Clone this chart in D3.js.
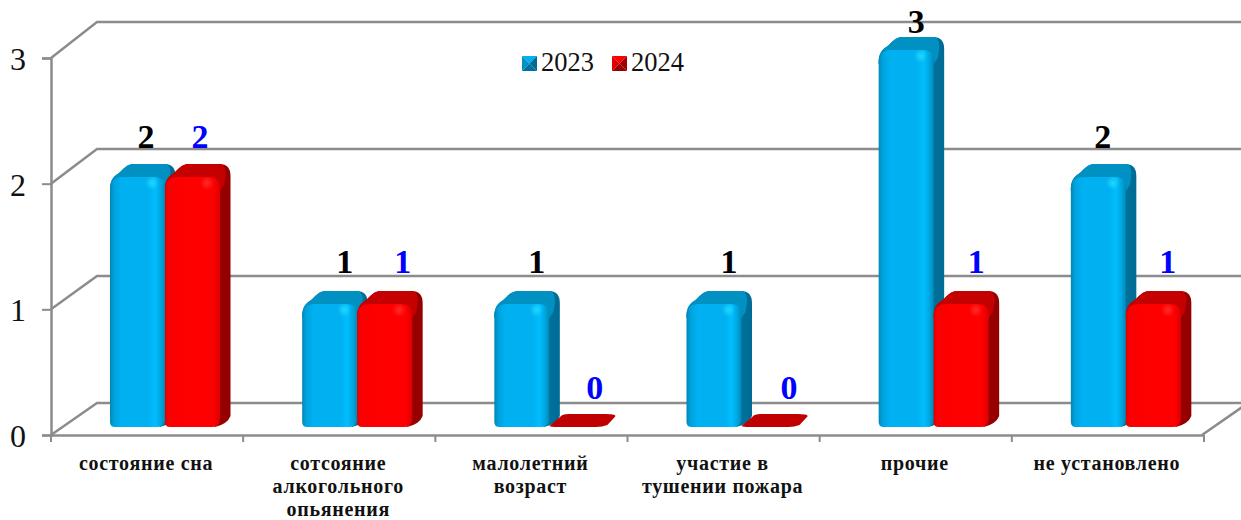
<!DOCTYPE html>
<html>
<head>
<meta charset="utf-8">
<script src="https://cdn.jsdelivr.net/npm/d3@7"></script>
<style>
html, body { margin: 0; padding: 0; background: #fff; overflow: hidden; }
text { font-family: "Liberation Serif", serif; }
</style>
</head>
<body>
<script>
var categories = ["состояние сна", "сотсояние алкогольного опьянения", "малолетний возраст", "участие в тушении пожара", "прочие", "не установлено"];
var categoryLines = [["состояние сна"], ["сотсояние", "алкогольного", "опьянения"], ["малолетний", "возраст"], ["участие в", "тушении пожара"], ["прочие"], ["не установлено"]];
var years = ["2023", "2024"];
var values2023 = [2, 1, 1, 1, 3, 2];
var values2024 = [2, 1, 0, 0, 1, 1];
var yTicks = [0, 1, 2, 3];
// hand placed data labels in the original
var labelShift2023 = [8.5, 15, 15, 15, 10, 4.5];
var labelShift2024 = [7.5, 18, 18, 20, 15, 14.5];

var width = 1241, height = 520;
var barDepth = {x: 10.5, y: -13};
var grey = "#8c8c8c";

var x = d3.scaleBand().domain(categories).range([51, 1204]);
var y = d3.scaleLinear().domain([0, 3]).range([435, 58]);       // front plane
var yBack = d3.scaleLinear().domain([0, 3]).range([403, 22]);   // back wall

var svg = d3.select("body").append("svg")
    .attr("width", width)
    .attr("height", height)
    .style("display", "block");

// gradients
var defs = svg.append("defs");
function faceGradient(id, stops) {
  var g = defs.append("linearGradient").attr("id", id);
  stops.forEach(function(s) {
    g.append("stop").attr("offset", s[0]).attr("stop-color", s[1]);
  });
}
faceGradient("front2023", [[0, "#0086b4"], [0.07, "#00a2dc"], [0.2, "#00b0f0"], [0.7, "#00b0f0"], [0.82, "#00beff"], [0.93, "#00a4dc"], [1, "#0088b6"]]);
faceGradient("front2024", [[0, "#e00000"], [0.07, "#fa0000"], [0.5, "#ff0000"], [0.88, "#ff0000"], [1, "#dc0000"]]);
faceGradient("side2023", [[0, "#0084b0"], [1, "#006c96"]]);
faceGradient("side2024", [[0, "#b00000"], [1, "#940000"]]);
["2023", "2024"].forEach(function(yr) {
  var g = defs.append("radialGradient").attr("id", "glow" + yr);
  var c = yr === "2023" ? "#30e4ff" : "#ff4040";
  g.append("stop").attr("offset", 0).attr("stop-color", c).attr("stop-opacity", 0.7);
  g.append("stop").attr("offset", 1).attr("stop-color", c).attr("stop-opacity", 0);
});
var colors = {
  "2023": {top: "#0090c2", base: "#00b0f0", left: "#0090c8", right: "#006a94", bottom: "#00709c"},
  "2024": {top: "#c40000", base: "#ff0000", left: "#e00000", right: "#a00000", bottom: "#990000"}
};

// walls and floor
var walls = svg.append("g").attr("fill", "none").attr("stroke", grey).attr("stroke-width", 2.5);
yTicks.forEach(function(t) {
  walls.append("path").attr("d", d3.line()([
    [x.range()[0], y(t)],
    [x.range()[0] + 46, yBack(t)],
    [width, yBack(t)]
  ]));
});
walls.append("path").attr("d", d3.line()([
  [x.range()[1] - 2, y(0)],
  [x.range()[1] + 44, yBack(0)]
]));

// axes
var yAxis = svg.append("g")
    .attr("transform", "translate(51,0)")
    .call(d3.axisLeft(y).tickValues(yTicks).tickFormat(d3.format("d")).tickSize(9).tickPadding(16));
var xAxis = svg.append("g")
    .attr("transform", "translate(0,435)")
    .call(d3.axisBottom(x).tickValues([]).tickSize(0));
[xAxis, yAxis].forEach(function(a) {
  a.selectAll("path.domain").attr("stroke", grey).attr("stroke-width", 2.5);
  a.selectAll("line").attr("stroke", grey).attr("stroke-width", 2);
});
yAxis.selectAll("text")
    .attr("font-size", 32)
    .attr("dy", "0.36em")
    .attr("fill", "#111")
    .attr("font-family", "Liberation Serif");

// category ticks on the band edges
var edges = categories.map(function(c) { return x(c); }).concat([x.range()[1]]);
xAxis.selectAll("line.edge").data(edges).enter().append("line")
    .attr("class", "edge")
    .attr("x1", function(d) { return d; })
    .attr("x2", function(d) { return d; })
    .attr("y1", 0)
    .attr("y2", 7)
    .attr("stroke", grey)
    .attr("stroke-width", 2);

// category labels
var labels = svg.append("g").attr("text-anchor", "middle")
    .attr("font-size", 20).attr("font-weight", "bold").attr("fill", "#111")
    .attr("letter-spacing", 0.7);
categories.forEach(function(c, i) {
  categoryLines[i].forEach(function(line, j) {
    labels.append("text")
        .attr("x", x(c) + x.bandwidth() / 2 - 1)
        .attr("y", 470 + j * 23)
        .text(line);
  });
});

// rounded 3d column
function drawBar(g, x0, bw, value, year) {
  var col = colors[year];
  var base = 427;
  var dx = barDepth.x, dy = barDepth.y;

  if (value === 0) {
    // flat disc for a zero value
    var p0 = d3.path();
    p0.moveTo(x0 + 8, base);
    p0.quadraticCurveTo(x0 + 2, base, x0, base - 1);
    p0.lineTo(x0 + 13, base + dy + 1);
    p0.quadraticCurveTo(x0 + 16, base + dy, x0 + 20, base + dy);
    p0.lineTo(x0 + bw + 1, base + dy);
    p0.quadraticCurveTo(x0 + bw + dx + 3, base + dy, x0 + bw + dx, base + dy + 3);
    p0.lineTo(x0 + bw + 3, base - 2);
    p0.quadraticCurveTo(x0 + bw - 2, base, x0 + bw - 8, base);
    p0.closePath();
    g.append("path").attr("d", p0.toString()).attr("fill", "#c00000");
    return;
  }

  var top = yBack(value) + 28;

  // outline shared by the side and the top
  function outline(p) {
    p.moveTo(x0, top + 12);
    p.bezierCurveTo(x0, top + 3, x0 + 4, top - 1, x0 + 9, top - 4);
    p.bezierCurveTo(x0 + 13, top - 7, x0 + 16, top + dy, x0 + 24, top + dy);
    p.lineTo(x0 + bw + dx - 11, top + dy);
  }

  var back = d3.path();
  outline(back);
  back.quadraticCurveTo(x0 + bw + dx, top + dy, x0 + bw + dx, top + dy + 12);
  back.lineTo(x0 + bw + dx, base + dy + 2);
  back.quadraticCurveTo(x0 + bw + dx - 3, base - 3, x0 + bw - 5, base);
  back.closePath();
  g.append("path").attr("d", back.toString()).attr("fill", "url(#side" + year + ")");

  var rim = d3.path();
  outline(rim);
  rim.quadraticCurveTo(x0 + bw + dx - 2, top + dy, x0 + bw + 4, top + 8);
  rim.lineTo(x0 + bw, top + 14);
  rim.lineTo(x0, top + 14);
  rim.closePath();
  g.append("path").attr("d", rim.toString()).attr("fill", col.top);

  // front face
  var f = d3.path();
  f.moveTo(x0, top + 13);
  f.quadraticCurveTo(x0, top, x0 + 13, top);
  f.lineTo(x0 + bw - 11, top);
  f.quadraticCurveTo(x0 + bw, top, x0 + bw, top + 11);
  f.lineTo(x0 + bw, base - 6);
  f.quadraticCurveTo(x0 + bw - 2, base, x0 + bw - 8, base);
  f.lineTo(x0 + 5, base);
  f.quadraticCurveTo(x0, base, x0, base - 5);
  f.closePath();
  g.append("path").attr("d", f.toString()).attr("fill", "url(#front" + year + ")");

  // small highlight near the corner
  g.append("ellipse")
      .attr("cx", x0 + bw - 13)
      .attr("cy", top + 6)
      .attr("rx", 7)
      .attr("ry", 7)
      .attr("fill", "url(#glow" + year + ")");
}

// bars
var inner = function(c) {
  return d3.scaleBand().domain(years).range([x(c) + 59, x(c) + 169]);
};
var series = {"2023": values2023, "2024": values2024};
var shifts = {"2023": labelShift2023, "2024": labelShift2024};
var bars = svg.append("g");
categories.forEach(function(c, i) {
  var sub = inner(c);
  years.forEach(function(yr) {
    drawBar(bars.append("g"), sub(yr), sub.bandwidth(), series[yr][i], yr);
  });
});

// value labels
var valueLabels = svg.append("g").attr("text-anchor", "middle")
    .attr("font-size", 34).attr("font-weight", "bold");
categories.forEach(function(c, i) {
  var sub = inner(c);
  years.forEach(function(yr) {
    var v = series[yr][i];
    valueLabels.append("text")
        .attr("x", sub(yr) + sub.bandwidth() / 2 + shifts[yr][i])
        .attr("y", v === 3 ? yBack(v) + 11 : y(v) - 36)
        .attr("fill", yr === "2023" ? "#000" : "#0000ff")
        .text(v);
  });
});

// legend
var legend = svg.append("g");
var legendX = d3.scaleOrdinal().domain(years).range([522, 612]);
years.forEach(function(yr) {
  var lx = legendX(yr), ly = 56, s = 15, col = colors[yr];
  var g = legend.append("g").attr("transform", "translate(" + lx + "," + ly + ")");
  var c = [s / 2, s / 2];
  g.append("path").attr("d", d3.line()([[0, 0], [s, 0], c])).attr("fill", col.base);
  g.append("path").attr("d", d3.line()([[0, 0], [0, s], c])).attr("fill", col.left);
  g.append("path").attr("d", d3.line()([[s, 0], [s, s], c])).attr("fill", col.right);
  g.append("path").attr("d", d3.line()([[0, s], [s, s], c])).attr("fill", col.bottom);
  legend.append("text")
      .attr("x", lx + 19)
      .attr("y", 71)
      .attr("font-size", 26.5)
      .attr("fill", "#111")
      .text(yr);
});
</script>
</body>
</html>
